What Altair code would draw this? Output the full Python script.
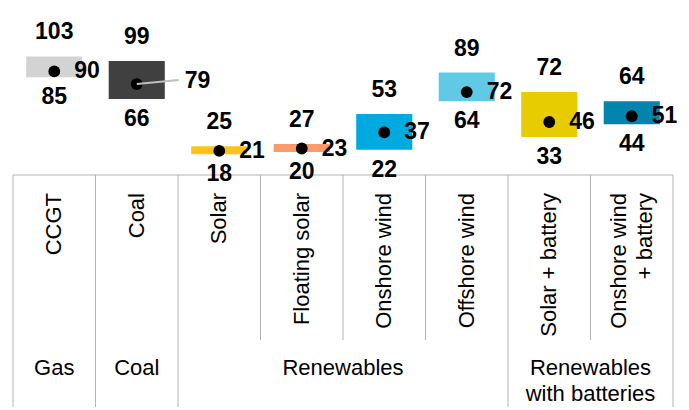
import altair as alt
import pandas as pd

# Cost ranges per technology: low / central / high
technologies = ["CCGT", "Coal", "Solar", "Floating solar", "Onshore wind",
                "Offshore wind", "Solar + battery", "Onshore wind\n+ battery"]
groups = ["Gas", "Coal", "Renewables", "Renewables", "Renewables", "Renewables",
          "Renewables\nwith batteries", "Renewables\nwith batteries"]
low = [85, 66, 18, 20, 22, 64, 33, 44]
mid = [90, 79, 21, 23, 37, 72, 46, 51]
high = [103, 99, 25, 27, 53, 89, 72, 64]

palette = ["#d3d3d3", "#404040", "#fbc31c", "#fc9a6c",
           "#00aade", "#60cae6", "#e6cc00", "#0284ad"]

FONT = "Liberation Sans"
LINE = "#b4b4b4"
TICK_LINE_HEIGHT = 26
LEADER_TECH = "Coal"  # central label pulled out with a leader line

df = pd.DataFrame({
    "tech": technologies,
    "group": groups,
    "low": low,
    "mid": mid,
    "high": high,
    "idx": list(range(len(technologies))),
})

n = len(technologies)
bounds = pd.DataFrame({
    "pos": list(range(n + 1)),
    "major": [i in (0, n) or groups[i] != groups[i - 1] for i in range(n + 1)],
})

xs = alt.Scale(domain=[0, n], nice=False, zero=False)
ys = alt.Scale(domain=[0, 152], range=[175, 0], nice=False, zero=False)

base = alt.Chart(df).transform_calculate(
    xc="datum.idx + 0.5",
    x0="datum.idx + 0.16",
    x1="datum.idx + 0.84",
)

# range bars
bars = base.mark_rect().encode(
    x=alt.X("x0:Q", scale=xs, axis=None),
    x2="x1:Q",
    y=alt.Y("low:Q", scale=ys, axis=None),
    y2="high:Q",
    color=alt.Color("tech:N", scale=alt.Scale(domain=technologies, range=palette), legend=None),
)

dots = base.mark_circle(size=140, color="black", opacity=1).encode(
    x=alt.X("xc:Q", scale=xs, axis=None),
    y=alt.Y("mid:Q", scale=ys, axis=None),
)

num_style = dict(font=FONT, fontSize=23, fontWeight="bold", color="black", baseline="middle")

high_lbl = base.mark_text(dy=-24, align="center", **num_style).encode(
    x=alt.X("xc:Q", scale=xs, axis=None),
    y=alt.Y("high:Q", scale=ys, axis=None),
    text="high:Q",
)

low_lbl = base.mark_text(dy=20, align="center", **num_style).encode(
    x=alt.X("xc:Q", scale=xs, axis=None),
    y=alt.Y("low:Q", scale=ys, axis=None),
    text="low:Q",
)

mid_lbl = base.transform_filter(f"datum.tech != '{LEADER_TECH}'").mark_text(
    dx=20, align="left", **num_style
).encode(
    x=alt.X("xc:Q", scale=xs, axis=None),
    y=alt.Y("mid:Q", scale=ys, axis=None),
    text="mid:Q",
)

leader = base.transform_filter(f"datum.tech == '{LEADER_TECH}'").mark_rule(
    color="#bfbfbf", strokeWidth=2, x2Offset=42, y2Offset=-4
).encode(
    x=alt.X("xc:Q", scale=xs, axis=None),
    x2="xc:Q",
    y=alt.Y("mid:Q", scale=ys, axis=None),
    y2="mid:Q",
)

leader_lbl = base.transform_filter(f"datum.tech == '{LEADER_TECH}'").mark_text(
    dx=48, dy=-3, align="left", **num_style
).encode(
    x=alt.X("xc:Q", scale=xs, axis=None),
    y=alt.Y("mid:Q", scale=ys, axis=None),
    text="mid:Q",
)

# category table under the plot
axis_line = alt.Chart(bounds).transform_aggregate(
    p0="min(pos)", p1="max(pos)"
).mark_rule(color=LINE, strokeWidth=1).encode(
    x=alt.X("p0:Q", scale=xs, axis=None),
    x2="p1:Q",
    y=alt.value(175),
)

minor_sep = alt.Chart(bounds).transform_filter("!datum.major").mark_rule(
    color=LINE, strokeWidth=1
).encode(
    x=alt.X("pos:Q", scale=xs, axis=None),
    y=alt.value(175),
    y2=alt.value(340),
)

major_sep = alt.Chart(bounds).transform_filter("datum.major").mark_rule(
    color=LINE, strokeWidth=1
).encode(
    x=alt.X("pos:Q", scale=xs, axis=None),
    y=alt.value(175),
    y2=alt.value(407),
)

tick_base = base.transform_calculate(
    lines="split(datum.tech, '\\n')"
)
tick_style = dict(font=FONT, fontSize=22, color="black", angle=270, align="right",
                  baseline="middle", lineHeight=TICK_LINE_HEIGHT)
tick_enc = dict(
    x=alt.X("xc:Q", scale=xs, axis=None),
    y=alt.value(193),
    text="lines:N",
)

# single-line and two-line category labels (two-line block centred on the band)
tick_lbl_1 = tick_base.transform_filter("length(datum.lines) == 1").mark_text(
    **tick_style
).encode(**tick_enc)
tick_lbl_2 = tick_base.transform_filter("length(datum.lines) == 2").mark_text(
    dy=-TICK_LINE_HEIGHT / 2, **tick_style
).encode(**tick_enc)

group_lbl = base.transform_aggregate(
    gx="mean(xc)", groupby=["group"]
).transform_calculate(
    lines="split(datum.group, '\\n')"
).mark_text(
    font=FONT, fontSize=22, color="black", align="center",
    baseline="top", lineHeight=26
).encode(
    x=alt.X("gx:Q", scale=xs, axis=None),
    y=alt.value(358),
    text="lines:N",
)

chart = alt.layer(
    axis_line, minor_sep, major_sep, bars, dots, leader,
    high_lbl, low_lbl, mid_lbl, leader_lbl, tick_lbl_1, tick_lbl_2, group_lbl,
).properties(
    width=660,
    height=410,
    padding={"left": 13, "top": 0, "right": 16, "bottom": 0},
    autosize=alt.AutoSizeParams(type="none"),
    background="white",
).configure_view(stroke=None)

chart.save("out.html", embed_options={"renderer": "svg", "actions": False})
